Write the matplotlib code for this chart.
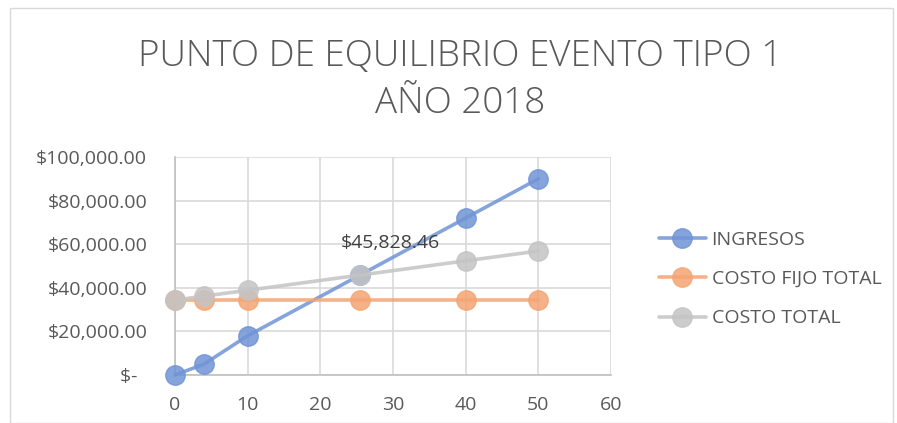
import numpy as np
import matplotlib.pyplot as plt
from matplotlib.ticker import FuncFormatter
from matplotlib.patches import Rectangle

# Datos
unidades = [0, 4, 10, 25.46, 40, 50]
ingresos = [0, 5000, 18000, 45828.46, 72000, 90000]
costo_fijo = [34371.35, 34371.35, 34371.35, 34371.35, 34371.35, 34371.35]
costo_total = [34371.35, 36171.35, 38871.35, 45828.46, 52371.35, 56871.35]
series = ['INGRESOS', 'COSTO FIJO TOTAL', 'COSTO TOTAL']
colores = ['#7094D6', '#F4A574', '#C4C4C4']
titulo = 'PUNTO DE EQUILIBRIO EVENTO TIPO 1\nAÑO 2018'
punto_eq = 45828.46

plt.rcParams['font.family'] = ['Open Sans', 'DejaVu Sans']
texto = '#595959'

fig = plt.figure(figsize=(8.97, 4.23), dpi=100)
ax = fig.add_axes([175 / 897, 1 - 375 / 423, (611 - 175) / 897, (375 - 157) / 423])

for vals, nombre, c in zip([ingresos, costo_fijo, costo_total], series, colores):
    ax.plot(unidades, vals, color=c, lw=2.6, marker='o', ms=14,
            markerfacecolor=c, markeredgecolor=c, alpha=0.85, label=nombre,
            solid_capstyle='round', clip_on=False, zorder=3)

# etiqueta del punto de equilibrio
ax.annotate('${:,.2f}'.format(punto_eq), (unidades[3], punto_eq),
            xytext=(22, 23), textcoords='offset points', ha='center',
            va='center', fontsize=14, color='#404040')

ax.set_xlim(0, 60)
ax.set_ylim(0, 100000)
ax.set_xticks(range(0, 61, 10))
ax.set_yticks(range(0, 100001, 20000))

def fmt_y(v, pos):
    if v == 0:
        return '$-  '
    return '${:,.2f}'.format(v)

ax.yaxis.set_major_formatter(FuncFormatter(fmt_y))
ax.grid(True, color='#D9D9D9', lw=1.2)
ax.set_axisbelow(True)
for s in ['top', 'right']:
    ax.spines[s].set_visible(False)
for s in ['left', 'bottom']:
    ax.spines[s].set_color('#BFBFBF')
    ax.spines[s].set_linewidth(1.2)
ax.tick_params(length=0, labelsize=14, colors=texto)
ax.tick_params(axis='y', pad=20)
ax.tick_params(axis='x', pad=15)

fig.text(0.513, 1 - 80 / 423, titulo, ha='center', va='center', fontsize=26.5,
         color=texto, fontweight='light', linespacing=1.33)

ax.legend(loc='center left', bbox_to_anchor=(1.07, 0.44), frameon=False,
          fontsize=14, labelcolor=texto, handlelength=2.4, handletextpad=0.3,
          labelspacing=1.1, markerscale=1.0)

fig.patches.append(Rectangle((10 / 897, 0), 1 - 14 / 897, 1 - 8 / 423,
                             transform=fig.transFigure, fill=False,
                             edgecolor='#D9D9D9', lw=1))

fig.savefig('out.png', dpi=100)
